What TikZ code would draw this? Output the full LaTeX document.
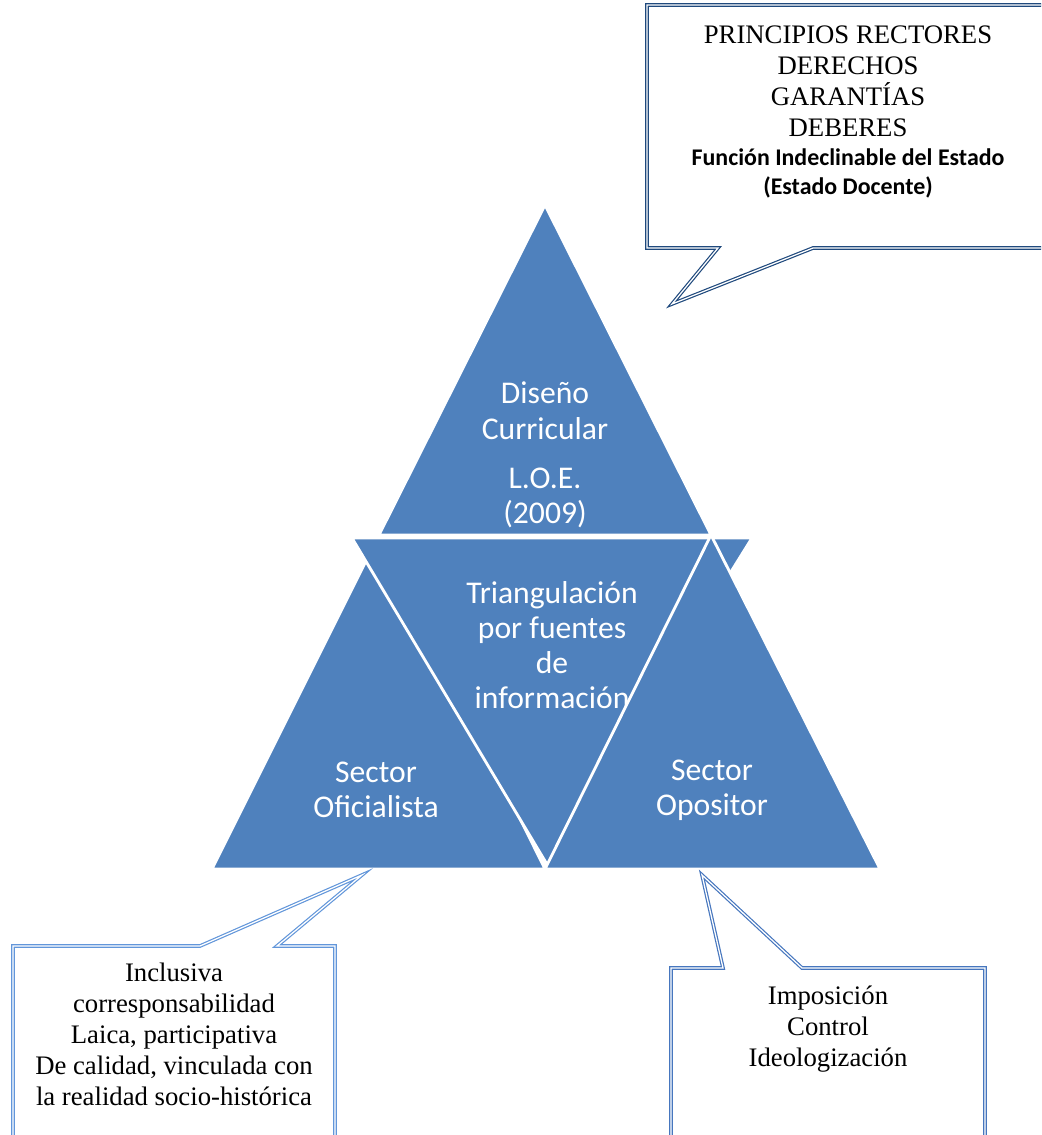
\documentclass[tikz,border=0pt]{standalone}
\usepackage{fontspec}
\setmainfont{Liberation Serif}
\newfontfamily\carlito{Carlito}
\usetikzlibrary{positioning}
\definecolor{triblue}{RGB}{79,129,189}
\definecolor{navyline}{RGB}{31,73,125}
\definecolor{paleline}{RGB}{98,150,218}
\definecolor{midline}{RGB}{70,118,190}

\begin{document}
\begin{tikzpicture}[x=0.025cm, y=-0.025cm,
  tri/.style={fill=triblue, draw=white, line width=2pt, line join=miter},
  trilabel/.style={text=white, align=center, font=\carlito\fontsize{22.5}{25}\selectfont},
  callout/.style={fill=white, line width=0.85pt, double=white, double distance=0.9pt, line join=miter},
  callouttext/.style={align=center, font=\fontsize{19}{22}\selectfont}]
  \useasboundingbox (0,0) rectangle (1041,1135);
  \clip (0,0) rectangle (1041,1135);

  % triangles
  \draw[tri] (545,205) -- (711,535) -- (379,535) -- cycle;
  \node[trilabel] (diseno) at (545,455) {Diseño\\Curricular\\[10pt]L.O.E.\\(2009)};
  \draw[tri] (379,535) -- (545,869) -- (212,869) -- cycle;
  \node[trilabel] (oficialista) at (376,790) {Sector\\Oficialista};
  \draw[tri] (352,538) -- (752,538) -- (548,866) -- cycle;
  \node[trilabel] (triangulacion) at (552,645) {Triangulación\\por fuentes\\de\\información};
  \draw[tri] (711,535) -- (880,869) -- (545,869) -- cycle;
  \node[trilabel] (opositor) at (712,790) {Sector\\Opositor};

  % callouts
  \draw[callout, draw=navyline] (647,5) -- (1060,5) -- (1060,248) -- (813,248) -- (672,304) -- (718,248) -- (647,248) -- cycle;
  \node[callouttext] (principios) at (848,81) {PRINCIPIOS RECTORES\\DERECHOS\\GARANTÍAS\\DEBERES};
  \node[align=center, font=\carlito\bfseries\fontsize{17}{20.5}\selectfont, below=2pt of principios] (funcion) {Función Indeclinable del Estado\\(Estado Docente)};

  \draw[callout, draw=paleline] (13,946) -- (200,946) -- (362,875) -- (277,946) -- (335,946) -- (335,1150) -- (13,1150) -- cycle;
  \node[callouttext] (inclusiva) at (174,1034) {Inclusiva\\corresponsabilidad\\Laica, participativa\\De calidad, vinculada con\\la realidad socio-histórica};

  \draw[callout, draw=midline] (671,968) -- (723,968) -- (702,875) -- (802,968) -- (985,968) -- (985,1150) -- (671,1150) -- cycle;
  \node[callouttext] (imposicion) at (828,1029) {Imposición\\Control\\Ideologización};
\end{tikzpicture}
\end{document}
